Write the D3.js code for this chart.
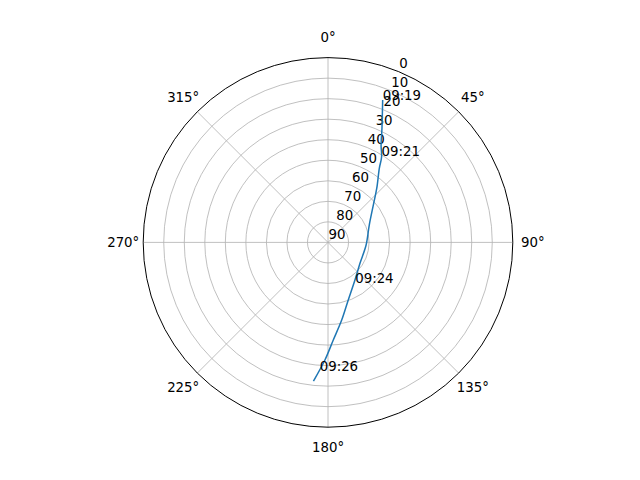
<!DOCTYPE html>
<html lang="en">
<head>
    <meta charset="UTF-8">
    <title>Satellite pass</title>
    <script src="https://d3js.org/d3.v7.min.js"></script>
    <style>
        body {
            margin: 0;
            padding: 0;
            background-color: #ffffff;
        }
        svg text {
            font-family: 'DejaVu Sans', sans-serif;
            font-size: 13.33px;
            fill: #000;
        }
        .grid {
            fill: none;
            stroke: #b0b0b0;
            stroke-width: 0.8px;
        }
    </style>
</head>
<body>
    <div id="chart"></div>

    <script>
        // Track of the pass: azimuth (deg, clockwise from north) and elevation (deg)
        const azimuth   = [21.0, 25.3, 28.6, 32.1, 34.7, 42.0, 50.5, 67.2, 93.9, 123.1, 144.3, 160.6, 170.0, 176.9, 181.5, 185.8, 186.0];
        const elevation = [15.7, 28.5, 36.0, 40.9, 46.1, 54.5, 61.4, 68.2, 71.4, 71.4, 67.5, 60.3, 51.6, 42.4, 32.7, 22.6, 22.1];

        // Time labels along the track
        const labelTimes = ["09:19", "09:21", "09:24", "09:26"];
        const labelAz    = [21.0, 31.9, 146.5, 183.7];
        const labelEl    = [15.7, 40.6, 66.0, 27.2];

        // Axis ticks
        const thetaTicks = [0, 45, 90, 135, 180, 225, 270, 315];
        const rTicks = [0, 10, 20, 30, 40, 50, 60, 70, 80, 90];
        const rLabelAngle = 22.5;

        const width = 640, height = 480;
        const cx = 328, cy = 242.4, R = 184.8;

        const svg = d3.select("#chart")
            .append("svg")
            .attr("width", width)
            .attr("height", height);

        svg.append("rect")
            .attr("width", width)
            .attr("height", height)
            .attr("fill", "#fff");

        const g = svg.append("g")
            .attr("transform", `translate(${cx},${cy})`);

        // elevation 90 at the centre, 0 at the rim
        const r = d3.scaleLinear().domain([90, 0]).range([0, R]);
        const rad = d => d * Math.PI / 180;
        const px = (az, el) => r(el) * Math.sin(rad(az));
        const py = (az, el) => -r(el) * Math.cos(rad(az));

        // circular grid
        g.append("g")
            .selectAll("circle")
            .data(rTicks.filter(d => d > 0 && d < 90))
            .enter().append("circle")
            .attr("class", "grid")
            .attr("r", d => r(d));

        // spoke grid
        g.append("g")
            .selectAll("line")
            .data(thetaTicks)
            .enter().append("line")
            .attr("class", "grid")
            .attr("x1", 0).attr("y1", 0)
            .attr("x2", d => px(d, 0))
            .attr("y2", d => py(d, 0));

        // outer spine
        g.append("circle")
            .attr("r", r(0))
            .attr("fill", "none")
            .attr("stroke", "#000")
            .attr("stroke-width", 1);

        // theta labels
        g.append("g")
            .selectAll("text")
            .data(thetaTicks)
            .enter().append("text")
            .attr("x", d => (R + 20) * Math.sin(rad(d)))
            .attr("y", d => -(R + 20) * Math.cos(rad(d)))
            .attr("text-anchor", "middle")
            .attr("dominant-baseline", "central")
            .text(d => d + "°");

        // radial labels
        g.append("g")
            .selectAll("text")
            .data(rTicks)
            .enter().append("text")
            .attr("x", d => px(rLabelAngle, d) + 0.5)
            .attr("y", d => py(rLabelAngle, d) - 3.4)
            .text(d => d);

        // the track
        const track = azimuth.map((a, i) => [rad(a), r(elevation[i])]);
        g.append("path")
            .datum(track)
            .attr("fill", "none")
            .attr("stroke", "#1f77b4")
            .attr("stroke-width", 1.5)
            .attr("stroke-linejoin", "round")
            .attr("d", d3.lineRadial()
                .angle(d => d[0])
                .radius(d => d[1])
                .curve(d3.curveCatmullRom.alpha(0.5)));

        // time labels
        g.append("g")
            .selectAll("text")
            .data(labelTimes)
            .enter().append("text")
            .attr("x", (d, i) => px(labelAz[i], labelEl[i]))
            .attr("y", (d, i) => py(labelAz[i], labelEl[i]))
            .text(d => d);
    </script>
</body>
</html>
